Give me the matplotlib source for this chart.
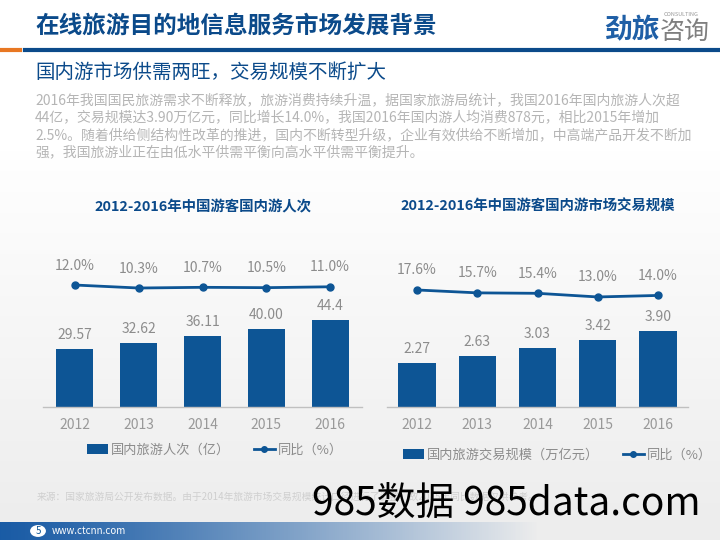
import numpy as np
import matplotlib
matplotlib.use("Agg")
import matplotlib.pyplot as plt
from matplotlib.lines import Line2D
from matplotlib.patches import Patch, Circle

plt.rcParams["font.family"] = ["Noto Sans CJK SC", "DejaVu Sans"]

# data
years = ["2012", "2013", "2014", "2015", "2016"]
trips = [29.57, 32.62, 36.11, 40.00, 44.4]
trips_labels = ["29.57", "32.62", "36.11", "40.00", "44.4"]
trips_yoy = [12.0, 10.3, 10.7, 10.5, 11.0]
spend = [2.27, 2.63, 3.03, 3.42, 3.90]
spend_labels = ["2.27", "2.63", "3.03", "3.42", "3.90"]
spend_yoy = [17.6, 15.7, 15.4, 13.0, 14.0]

title = "在线旅游目的地信息服务市场发展背景"
subtitle = "国内游市场供需两旺，交易规模不断扩大"
paragraph = [
    "2016年我国国民旅游需求不断释放，旅游消费持续升温，据国家旅游局统计，我国2016年国内旅游人次超",
    "44亿，交易规模达3.90万亿元，同比增长14.0%，我国2016年国内游人均消费878元，相比2015年增加",
    "2.5%。随着供给侧结构性改革的推进，国内不断转型升级，企业有效供给不断增加，中高端产品开发不断加",
    "强，我国旅游业正在由低水平供需平衡向高水平供需平衡提升。",
]
source = "来源：国家旅游局公开发布数据。由于2014年旅游市场交易规模统计口径进行了调整，故2015年同比数据仅供参考。"

BLUE = "#0d5595"
DARK = "#0b4a8a"
GRAY = "#8c8c8c"

W, H = 720, 540
fig = plt.figure(figsize=(7.2, 5.4), dpi=100)


def fx(px):
    return px / W


def fy(py):
    return 1 - py / H


# background gradient
bg = fig.add_axes([0, 0, 1, 1], zorder=-10)
grad = np.ones((H, 1, 3))
t = np.clip((np.arange(H) - 150) / 370, 0, 1)
shade = 1 - 0.07 * t
grad[:, 0, :] = shade[:, None]
bg.imshow(grad, aspect="auto", extent=[0, 1, 0, 1])
bg.axis("off")

# footer band
foot = fig.add_axes([0, 0, 0.75, 18 / H], zorder=-5)
band = np.zeros((1, 300, 4))
band[0, :, 0] = 0.10
band[0, :, 1] = 0.36
band[0, :, 2] = 0.65
band[0, :, 3] = np.clip(1 - np.linspace(0, 1, 300) ** 1.2, 0, 1)
foot.imshow(band, aspect="auto", extent=[0, 1, 0, 1])
foot.axis("off")
fig.add_artist(Circle((fx(38), fy(531)), 0.011, transform=fig.transFigure,
                      facecolor="white", edgecolor="none"))
fig.text(fx(38), fy(531), "5", color=BLUE, fontsize=7, ha="center", va="center")
fig.text(fx(52), fy(531), "www.ctcnn.com", color="white", fontsize=7, va="center")

# header
fig.text(fx(35), fy(26), title, color=DARK, fontsize=17, fontweight="bold", va="center")
fig.add_artist(Line2D([fx(25), 1], [fy(50), fy(50)], color=DARK, lw=3))
fig.add_artist(Line2D([0, fx(20)], [fy(50), fy(50)], color="#e87722", lw=3))
fig.text(fx(604), fy(30), "劲旅", color="#1f5fa6", fontsize=20, fontweight="bold", va="center")
fig.text(fx(660), fy(32), "咨询", color="#7f7f7f", fontsize=18, va="center")
fig.text(fx(664), fy(15), "CONSULTING", color="#999999", fontsize=4, va="center")

fig.text(fx(35), fy(72), subtitle, color=DARK, fontsize=14, va="center")
for i, line in enumerate(paragraph):
    fig.text(fx(35), fy(100 + 17.5 * i), line, color="#b5b5b5", fontsize=10, va="center")


def draw_chart(left, width, values, labels, yoy, bar_top, line_lim, bar_w, chart_title, legend_names, legend_pos):
    ax = fig.add_axes([left, fy(407), width, 157 / H])
    ax.set_facecolor("none")
    x = np.arange(len(years))
    ax.bar(x, values, width=bar_w, color=BLUE, zorder=2)
    for xi, v, lab in zip(x, values, labels):
        ax.annotate(lab, (xi, v), xytext=(0, 5), textcoords="offset points",
                    ha="center", va="bottom", color=GRAY, fontsize=10)
    ax.set_xlim(-0.5, len(years) - 0.5)
    ax.set_ylim(0, bar_top)
    ax.set_xticks(x)
    ax.set_xticklabels(years, color="#999999", fontsize=10)
    ax.tick_params(axis="x", length=0, pad=8)
    ax.set_yticks([])
    for s in ["top", "left", "right"]:
        ax.spines[s].set_visible(False)
    ax.spines["bottom"].set_color("#c0c0c0")
    ax.spines["bottom"].set_linewidth(1)

    ax2 = ax.twinx()
    ax2.plot(x, yoy, color=BLUE, lw=2, marker="o", markersize=5, zorder=3)
    for xi, v in zip(x, yoy):
        ax2.annotate(f"{v:.1f}%", (xi, v), xytext=(0, 9), textcoords="offset points",
                     ha="center", va="bottom", color=GRAY, fontsize=10)
    ax2.set_ylim(*line_lim)
    ax2.set_yticks([])
    for s in ax2.spines.values():
        s.set_visible(False)

    fig.text(left + width / 2, fy(207), chart_title, color=DARK, fontsize=10.4,
             fontweight="bold", ha="center", va="center")

    handles = [Patch(facecolor=BLUE, edgecolor="none"),
               Line2D([0], [0], color=BLUE, lw=2, marker="o", markersize=4)]
    fig.legend(handles, legend_names, loc="center left", bbox_to_anchor=legend_pos,
               ncol=2, frameon=False, fontsize=9.5, labelcolor="#8c8c8c",
               handlelength=1.6, handletextpad=0.2, columnspacing=1.8)


draw_chart(fx(43), 319 / W, trips, trips_labels, trips_yoy, 80, (-57.3, 31.9), 0.58,
           "2012-2016年中国游客国内游人次", ["国内旅游人次（亿）", "同比（%）"],
           (fx(75), fy(450)))
draw_chart(fx(387), 301 / W, spend, spend_labels, spend_yoy, 8.05, (-59.4, 43.9), 0.62,
           "2012-2016年中国游客国内游市场交易规模", ["国内旅游交易规模（万亿元）", "同比（%）"],
           (fx(391), fy(455)))

fig.text(fx(37), fy(497), source, color="#cfcfcf", fontsize=7, va="center")
fig.text(fx(312), fy(505), "985数据 985data.com", color="black", fontsize=28, va="center")

fig.savefig("out.png", dpi=100)
